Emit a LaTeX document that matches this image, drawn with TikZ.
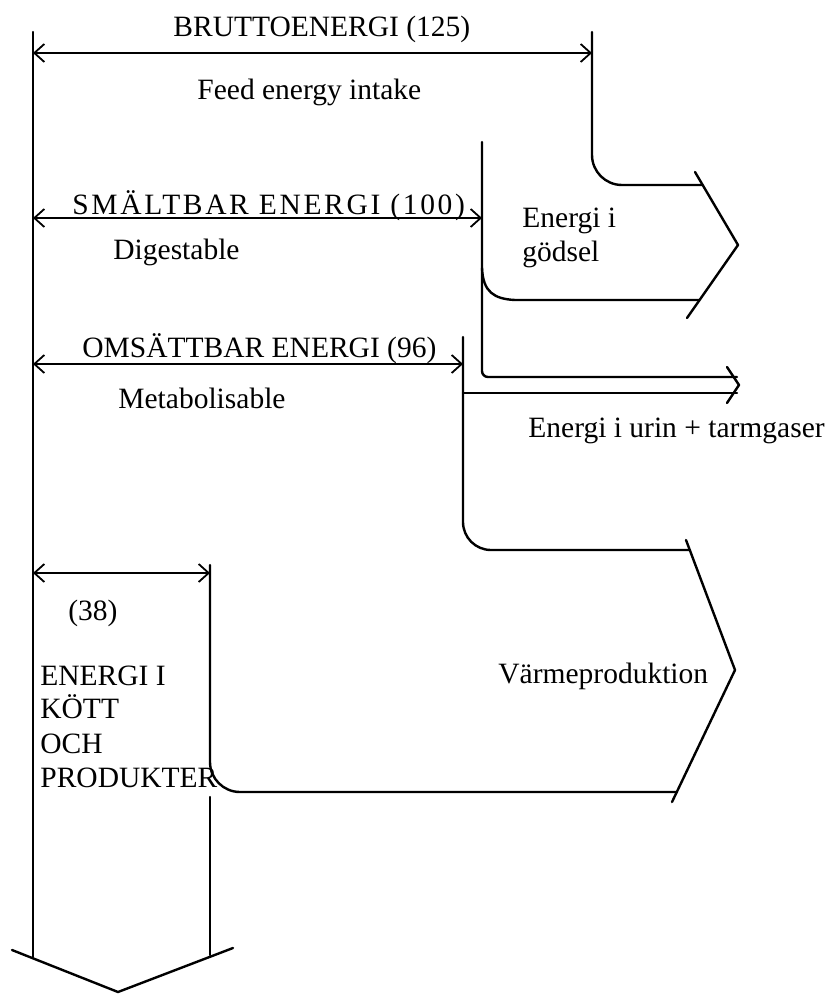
\documentclass[tikz,border=0pt]{standalone}
\usepackage{fontspec}
\setmainfont{Liberation Serif}
\usetikzlibrary{arrows.meta}
\tikzset{
  flow/.style={line width=1.2pt, line join=round, line cap=round},
  dimline/.style={line width=0.9pt, {Straight Barb[length=5pt,width=9pt]}-{Straight Barb[length=5pt,width=9pt]}},
  lbl/.style={anchor=base west, inner sep=0pt, font=\fontsize{14.75}{17}\selectfont},
}
\begin{document}
\begin{tikzpicture}[x=0.5pt,y=-0.5pt]
\useasboundingbox (0,0) rectangle (828,994);
% main channel
\coordinate (Ltop) at (33,32);
\coordinate (Lbot) at (33,957);
\coordinate (Rtop) at (210,565);
\coordinate (Rcor) at (210,792);
\coordinate (Rend) at (677,792);
\coordinate (R2top) at (210,797);
\coordinate (R2bot) at (210,955);
\coordinate (Cl) at (12,950);
\coordinate (Ca) at (118,992);
\coordinate (Cr) at (233,948);
\draw[flow] (Ltop) -- (Lbot);
\draw[flow, rounded corners=15pt] (Rtop) -- (Rcor) -- (Rend);
\draw[flow] (R2top) -- (R2bot);
\draw[flow] (Cl) -- (Ca) -- (Cr);
% faeces branch
\coordinate (Gtop) at (592,32);
\coordinate (Gcor) at (592,185);
\coordinate (Gend) at (702,185);
\coordinate (G1) at (695,172);
\coordinate (G2) at (738,245);
\coordinate (G3) at (687,318);
\coordinate (Dtop) at (482,142);
\coordinate (Dcor) at (482,377);
\coordinate (Dend) at (737,377);
\coordinate (Db1) at (482,268);
\coordinate (Db2) at (515,300);
\coordinate (Dbend) at (699,300);
\draw[flow, rounded corners=15pt] (Gtop) -- (Gcor) -- (Gend);
\draw[flow] (G1) -- (G2) -- (G3);
\draw[flow, rounded corners=3pt] (Dtop) -- (Dcor) -- (Dend);
\draw[flow] (Db1) .. controls (483,292) and (494,299) .. (Db2) -- (Dbend);
% urine branch
\coordinate (Mtop) at (463,337);
\coordinate (Mcor) at (463,550);
\coordinate (Mend) at (690,550);
\coordinate (Mb) at (463,393);
\coordinate (Mbend) at (737,393);
\coordinate (U1) at (727,367);
\coordinate (U2) at (739,385);
\coordinate (U3) at (727,403);
\draw[flow, rounded corners=14pt] (Mtop) -- (Mcor) -- (Mend);
\draw[flow] (Mb) -- (Mbend);
\draw[flow] (U1) -- (U2) -- (U3);
% heat chevron
\coordinate (V1) at (686,540);
\coordinate (V2) at (735,670);
\coordinate (V3) at (672,802);
\draw[flow] (V1) -- (V2) -- (V3);
% dimension arrows
\coordinate (a1) at (33,53);  \coordinate (b1) at (592,53);
\coordinate (a2) at (33,218); \coordinate (b2) at (482,218);
\coordinate (a3) at (33,364); \coordinate (b3) at (463,364);
\coordinate (a4) at (33,573); \coordinate (b4) at (210,573);
\draw[dimline] (a1) -- (b1);
\draw[dimline] (a2) -- (b2);
\draw[dimline] (a3) -- (b3);
\draw[dimline] (a4) -- (b4);
% labels
\node[lbl] (brutto) at (173,37) {BRUTTOENERGI (125)};
\node[lbl] (feed) at (197,100) {Feed energy intake};
\node[lbl] (smalt) at (72,215) {\addfontfeatures{LetterSpace=9}SMÄLTBAR ENERGI (100)};
\node[lbl] (dig) at (113,260) {Digestable};
\node[lbl] (oms) at (82,357) {OMSÄTTBAR ENERGI (96)};
\node[lbl] (met) at (118,408) {Metabolisable};
\node[lbl] (gods1) at (522,228) {Energi i};
\node[lbl] (gods2) at (522,262) {gödsel};
\node[lbl] (urin) at (528,437) {Energi i urin + tarmgaser};
\node[lbl] (varme) at (498,683) {Värmeproduktion};
\node[lbl] (n38) at (68,620) {(38)};
\node[lbl] (k1) at (40,685) {ENERGI I};
\node[lbl] (k2) at (40,718) {KÖTT};
\node[lbl] (k3) at (40,753) {OCH};
\node[lbl] (k4) at (40,787) {PRODUKTER};
\end{tikzpicture}
\end{document}
